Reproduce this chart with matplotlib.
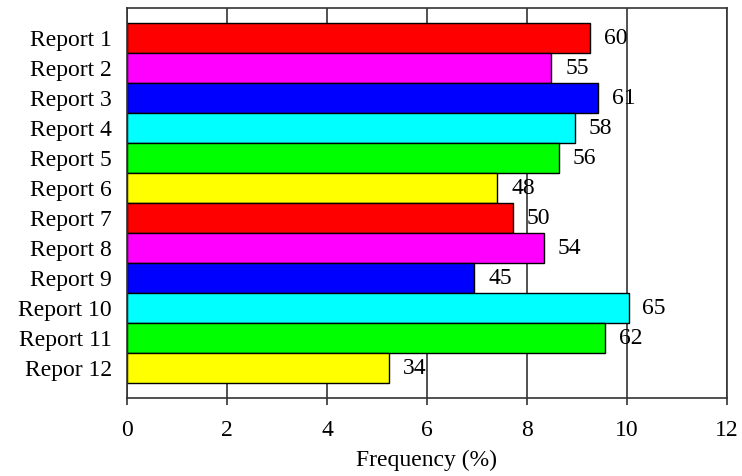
import numpy as np
import matplotlib.pyplot as plt

plt.rcParams['font.family'] = ['Liberation Serif', 'DejaVu Serif']

reports = ['Report 1', 'Report 2', 'Report 3', 'Report 4', 'Report 5', 'Report 6',
           'Report 7', 'Report 8', 'Report 9', 'Report 10', 'Report 11', 'Repor 12']
counts = np.array([60, 55, 61, 58, 56, 48, 50, 54, 45, 65, 62, 34])
colors = ['#ff0000', '#ff00ff', '#0000ff', '#00ffff', '#00ff00', '#ffff00'] * 2

# bar length is the share of all counts
freq = counts / counts.sum() * 100

fig = plt.figure(figsize=(7.42, 4.76), dpi=100)
ax = fig.add_axes([127 / 742, 78 / 476, 600 / 742, 390 / 476])

ypos = np.arange(len(reports))
ax.barh(ypos, freq, height=1.0, color=colors, edgecolor='black', linewidth=1.0, zorder=2)

for y, f, c in zip(ypos, freq, counts):
    ax.annotate(str(c), (f, y), xytext=(10, 0), textcoords='offset points',
                ha='left', va='center', fontsize=17, zorder=1)

ax.set_xlim(0, 12)
ax.set_ylim(12, -1)
ax.set_xticks(range(0, 13, 2))
ax.set_yticks(ypos)
ax.set_yticklabels(reports)
ax.xaxis.grid(True, color='#333333', linewidth=1.2, zorder=0)
ax.set_axisbelow(True)

ax.tick_params(axis='y', length=0, pad=11, labelsize=17)
ax.tick_params(axis='x', length=5, width=1.2, color='#333333', pad=11, labelsize=17)
for s in ax.spines.values():
    s.set_color('#333333')
    s.set_linewidth(1.2)

ax.set_xlabel('Frequency (%)', fontsize=17, labelpad=6)

fig.savefig('out.png', dpi=100)
